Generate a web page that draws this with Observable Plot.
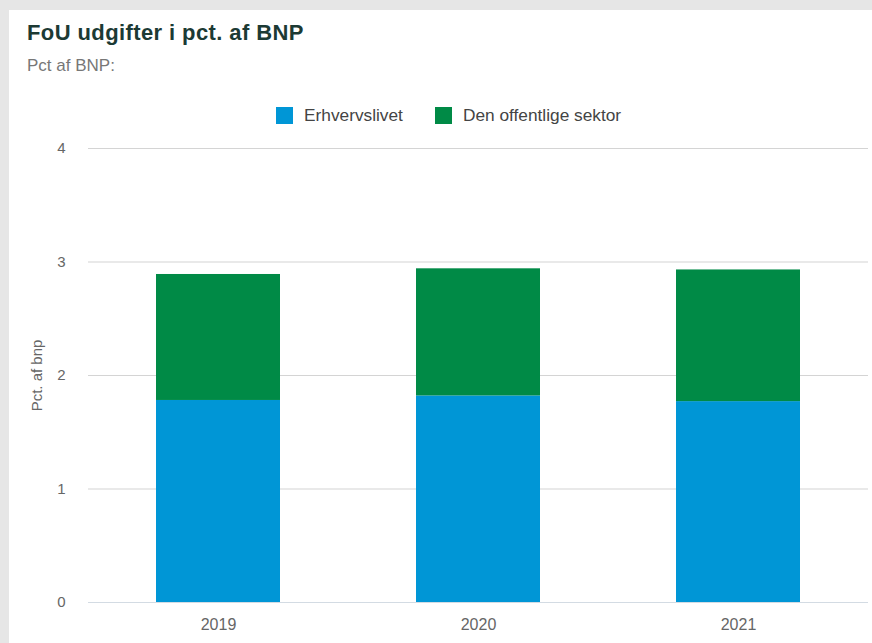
<!DOCTYPE html>
<html>
<head>
<meta charset="utf-8">
<script src="https://cdn.jsdelivr.net/npm/d3@7"></script>
<script src="https://cdn.jsdelivr.net/npm/@observablehq/plot@0.6"></script>
<style>
  html, body { margin: 0; padding: 0; }
  body { width: 872px; height: 643px; background: #e6e6e6; position: relative; overflow: hidden; font-family: "Liberation Sans", Arial, sans-serif; }
  #card { position: absolute; left: 9px; top: 10px; width: 863px; height: 633px; background: #fff; }
  #title { position: absolute; left: 27px; top: 22px; font-size: 22px; line-height: 22px; font-weight: bold; color: #1c3a34; letter-spacing: 0.4px; white-space: nowrap; }
  #subtitle { position: absolute; left: 27px; top: 57px; font-size: 17px; line-height: 17px; color: #777; white-space: nowrap; }
  #legend { position: absolute; left: 276px; top: 106px; height: 18px; display: flex; align-items: center; font-size: 17.3px; color: #444; white-space: nowrap; }
  .sw { display: inline-block; width: 17px; height: 17px; margin-right: 11px; }
  .item { display: flex; align-items: center; margin-right: 32px; }
  #chart { position: absolute; left: 0; top: 130px; }
</style>
</head>
<body>
<div id="card"></div>
<div id="title">FoU udgifter i pct. af BNP</div>
<div id="subtitle">Pct af BNP:</div>
<div id="legend"></div>
<div id="chart"></div>
<script>
const years = ["2019", "2020", "2021"];
const seriesNames = ["Erhvervslivet", "Den offentlige sektor"];
const erhvervslivet = [1.78, 1.82, 1.77];
const offentligSektor = [1.11, 1.12, 1.16];
const seriesColors = ["#0096d6", "#008a46"];
const yTicks = [0, 1, 2, 3, 4];
const yLabel = "Pct. af bnp";

const data = [];
years.forEach((yr, i) => {
  data.push({ year: yr, series: seriesNames[0], value: erhvervslivet[i] });
  data.push({ year: yr, series: seriesNames[1], value: offentligSektor[i] });
});

const legend = document.getElementById("legend");
seriesNames.forEach((name, i) => {
  const it = document.createElement("div");
  it.className = "item";
  const sw = document.createElement("span");
  sw.className = "sw";
  sw.style.background = seriesColors[i];
  it.appendChild(sw);
  it.appendChild(document.createTextNode(name));
  legend.appendChild(it);
});

const chart = Plot.plot({
  width: 872,
  height: 513,
  marginTop: 18,
  marginBottom: 41,
  marginLeft: 88,
  marginRight: 4,
  style: { fontFamily: "Liberation Sans, Arial, sans-serif", background: "transparent" },
  x: { domain: years, paddingInner: 0.523, paddingOuter: 0.2615, label: null },
  y: { domain: [0, 4], ticks: yTicks, label: yLabel },
  color: { domain: seriesNames, range: seriesColors },
  marks: [
    Plot.ruleY(yTicks, { stroke: "#d4d4d4", strokeWidth: 1.2 }),
    Plot.barY(data, { x: "year", y: "value", fill: "series" }),
    Plot.ruleY([0], { stroke: "#d3dbe3", strokeWidth: 1.2 }),
    Plot.axisX({ tickSize: 0, tickPadding: 16, fontSize: 16, fill: "#666", label: null }),
    Plot.axisY({ ticks: yTicks, tickSize: 0, tickPadding: 23, fontSize: 15, fill: "#666",
      label: yLabel, labelAnchor: "center", labelOffset: 57, labelArrow: "none", tickFormat: d3.format("d") })
  ]
});
document.getElementById("chart").appendChild(chart);
</script>
</body>
</html>
